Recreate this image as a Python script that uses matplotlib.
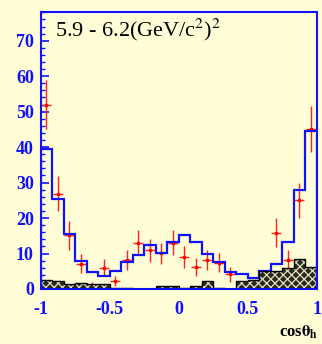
import numpy as np
import matplotlib
matplotlib.use("Agg")
import matplotlib.pyplot as plt
from matplotlib.ticker import MultipleLocator

# cos(theta_h) binning: 24 bins over [-1, 1]
edges = np.linspace(-1.0, 1.0, 25)
centers = 0.5 * (edges[:-1] + edges[1:])

# MC expectation (blue histogram)
mc = [39.4, 25.4, 15.6, 7.8, 4.8, 3.7, 5.1, 7.6, 9.5, 12.5, 10.1, 13.2,
      15.1, 13.2, 10.0, 7.6, 4.8, 4.3, 3.1, 5.0, 7.1, 13.2, 27.8, 44.6]

# background (hatched histogram)
bkg = [2.4, 2.2, 1.3, 1.7, 1.3, 1.3, 0.4, 0.4, 0.1, 0.0, 0.8, 0.8,
       0.4, 0.8, 2.2, 0.4, 0.0, 2.2, 2.4, 5.0, 5.0, 5.8, 8.4, 6.3]

# data points with errors (nan = empty bin)
data = [52.0, 26.9, 15.1, 7.1, 1.0, 6.0, 2.2, 8.1, 13.0, 10.9, 10.1, 13.0,
        9.0, 6.2, 8.1, 7.4, 4.1, np.nan, 1.0, 3.0, 15.9, 8.1, 25.0, 45.0]
data_err = [7.0, 5.0, 4.0, 2.7, 0.9, 2.4, 1.5, 2.8, 3.5, 3.2, 3.0, 3.5,
            3.0, 2.5, 2.8, 2.7, 2.0, 0.0, 1.0, 1.7, 4.0, 2.8, 5.0, 6.5]

BG = "#fffed6"
BLUE = "#1010ff"

plt.rcParams["hatch.linewidth"] = 0.9

fig = plt.figure(figsize=(3.22, 3.44), dpi=100, facecolor=BG)
ax = fig.add_axes([0.1264, 0.160, 0.8571, 0.804], facecolor=BG)

ax.errorbar(centers, data, yerr=data_err, xerr=0.036, fmt="s", ms=2.0,
            color="red", ecolor="#ff2020", elinewidth=1.0, capsize=0,
            zorder=3)

ax.stairs(mc, edges, color=BLUE, linewidth=1.6, zorder=4)

# dark checker fill: light hatch lines over a dark face
ax.stairs(bkg, edges, fill=True, facecolor="#2a2a1c", edgecolor="#e4e4c4",
          hatch="xxxx", linewidth=0, zorder=5)
ax.stairs(bkg, edges, color="black", linewidth=1.0, zorder=5)

ax.set_xlim(-1, 1)
ax.set_ylim(0, 78)

for sp in ax.spines.values():
    sp.set_color(BLUE)
    sp.set_linewidth(1.5)
    sp.set_zorder(10)

ax.set_xticks([-1, -0.5, 0, 0.5, 1])
ax.set_xticklabels(["-1", "-0.5", "0", "0.5", "1"])
ax.yaxis.set_major_locator(MultipleLocator(10))
ax.yaxis.set_minor_locator(MultipleLocator(2))
ax.tick_params(axis="y", which="major", direction="in", length=6,
               color=BLUE, width=1.2, pad=5)
ax.tick_params(axis="y", which="minor", direction="in", length=3,
               color=BLUE, width=1.0)
ax.tick_params(axis="x", length=0, pad=9)

for lab in ax.get_xticklabels() + ax.get_yticklabels():
    lab.set_fontfamily("Liberation Serif")
    lab.set_fontweight("bold")
    lab.set_fontsize(13)
    lab.set_color(BLUE)

ax.text(0.05, 0.935, r"5.9 - 6.2(GeV/c$^{2}$)$^{2}$", transform=ax.transAxes,
        fontsize=16, family="Liberation Serif", va="center", ha="left",
        math_fontfamily="stix")

fig.text(0.988, 0.035, r"cos$\mathbf{\theta}_{\mathbf{h}}$", ha="right",
         va="center", fontsize=12, family="Liberation Serif",
         fontweight="bold", math_fontfamily="stix")

fig.savefig("out.png", dpi=100, facecolor=BG)
